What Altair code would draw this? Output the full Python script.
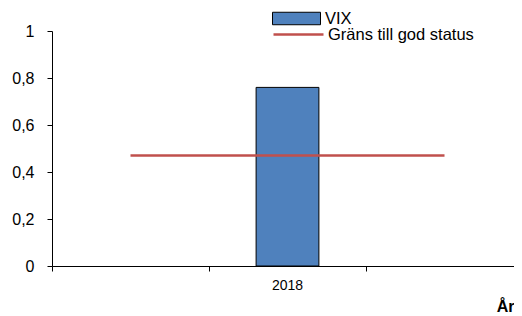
import altair as alt
import pandas as pd

# ---- data ----
years = ["", "2018", " "]          # three year slots, only 2018 has a label/value
vix = [None, 0.76, None]
grans = [0.47, 0.47, 0.47]
bar_series = "VIX"
line_series = "Gräns till god status"
y_ticks = [0, 0.2, 0.4, 0.6, 0.8, 1]

df = pd.DataFrame({"year": years, "vix": vix, "grans": grans})

FONT = "Liberation Sans"
BLUE = "#4F81BD"
RED = "#C0504D"

x_enc = alt.X(
    "year:N",
    sort=years,
    scale=alt.Scale(paddingInner=0, paddingOuter=0),
    axis=alt.Axis(
        title="År",
        titleFont=FONT,
        titleFontSize=16,
        titleFontWeight="bold",
        titleColor="black",
        titleAlign="right",
        titleBaseline="alphabetic",
        titleAnchor="end",
        titleX=462,
        titleY=45,
        labelAngle=0,
        bandPosition=0,
        labelFont=FONT,
        labelFontSize=14,
        labelColor="black",
        labelPadding=7,
        tickSize=5,
        tickColor="black",
        domainColor="black",
        grid=False,
    ),
)

y_axis = alt.Axis(
    values=y_ticks,
    labelExpr="replace(format(datum.value, '~g'), '.', ',')",
    title=None,
    grid=False,
    labelFont=FONT,
    labelFontSize=16,
    labelColor="black",
    labelPadding=13,
    tickSize=5,
    tickColor="black",
    domainColor="black",
)

bars = alt.Chart(df).transform_calculate(
    series=f"'{bar_series}'"
).mark_bar(
    width={"band": 0.4}, stroke="black", strokeWidth=1
).encode(
    x=x_enc,
    y=alt.Y("vix:Q", scale=alt.Scale(domain=[0, 1]), axis=y_axis),
    fill=alt.Fill(
        "series:N",
        scale=alt.Scale(domain=[bar_series], range=[BLUE]),
        legend=alt.Legend(
            title=None,
            orient="none",
            legendX=220,
            legendY=-37,
            padding=0,
            labelFont=FONT,
            labelFontSize=16.5,
            labelColor="black",
            labelOffset=4,
            symbolType="M-1,-0.26H1V0.26H-1Z",
            symbolSize=2304,
            symbolStrokeColor="black",
            symbolStrokeWidth=1,
            symbolOpacity=1,
        ),
    ),
)

line = alt.Chart(df).transform_calculate(
    series2=f"'{line_series}'"
).mark_line(color=RED, strokeWidth=2.5).encode(
    x=x_enc,
    y=alt.Y("grans:Q"),
    stroke=alt.Stroke(
        "series2:N",
        scale=alt.Scale(domain=[line_series], range=[RED]),
        legend=alt.Legend(
            title=None,
            orient="none",
            legendX=220,
            legendY=-23,
            padding=0,
            labelFont=FONT,
            labelFontSize=16.5,
            labelColor="black",
            labelOffset=3,
            symbolType="stroke",
            symbolSize=2500,
            symbolStrokeWidth=2.5,
            symbolStrokeColor=RED,
        ),
    ),
)

chart = (
    alt.layer(bars, line)
    .resolve_scale(fill="independent", stroke="independent")
    .properties(
        width=471,
        height=235,
        autosize=alt.AutoSizeParams(type="none"),
        padding={"left": 44, "top": 23, "right": -9, "bottom": 50},
        background="white",
    )
    .configure_view(stroke=None)
)

chart.save("out.html", embed_options={"renderer": "svg", "actions": False})
